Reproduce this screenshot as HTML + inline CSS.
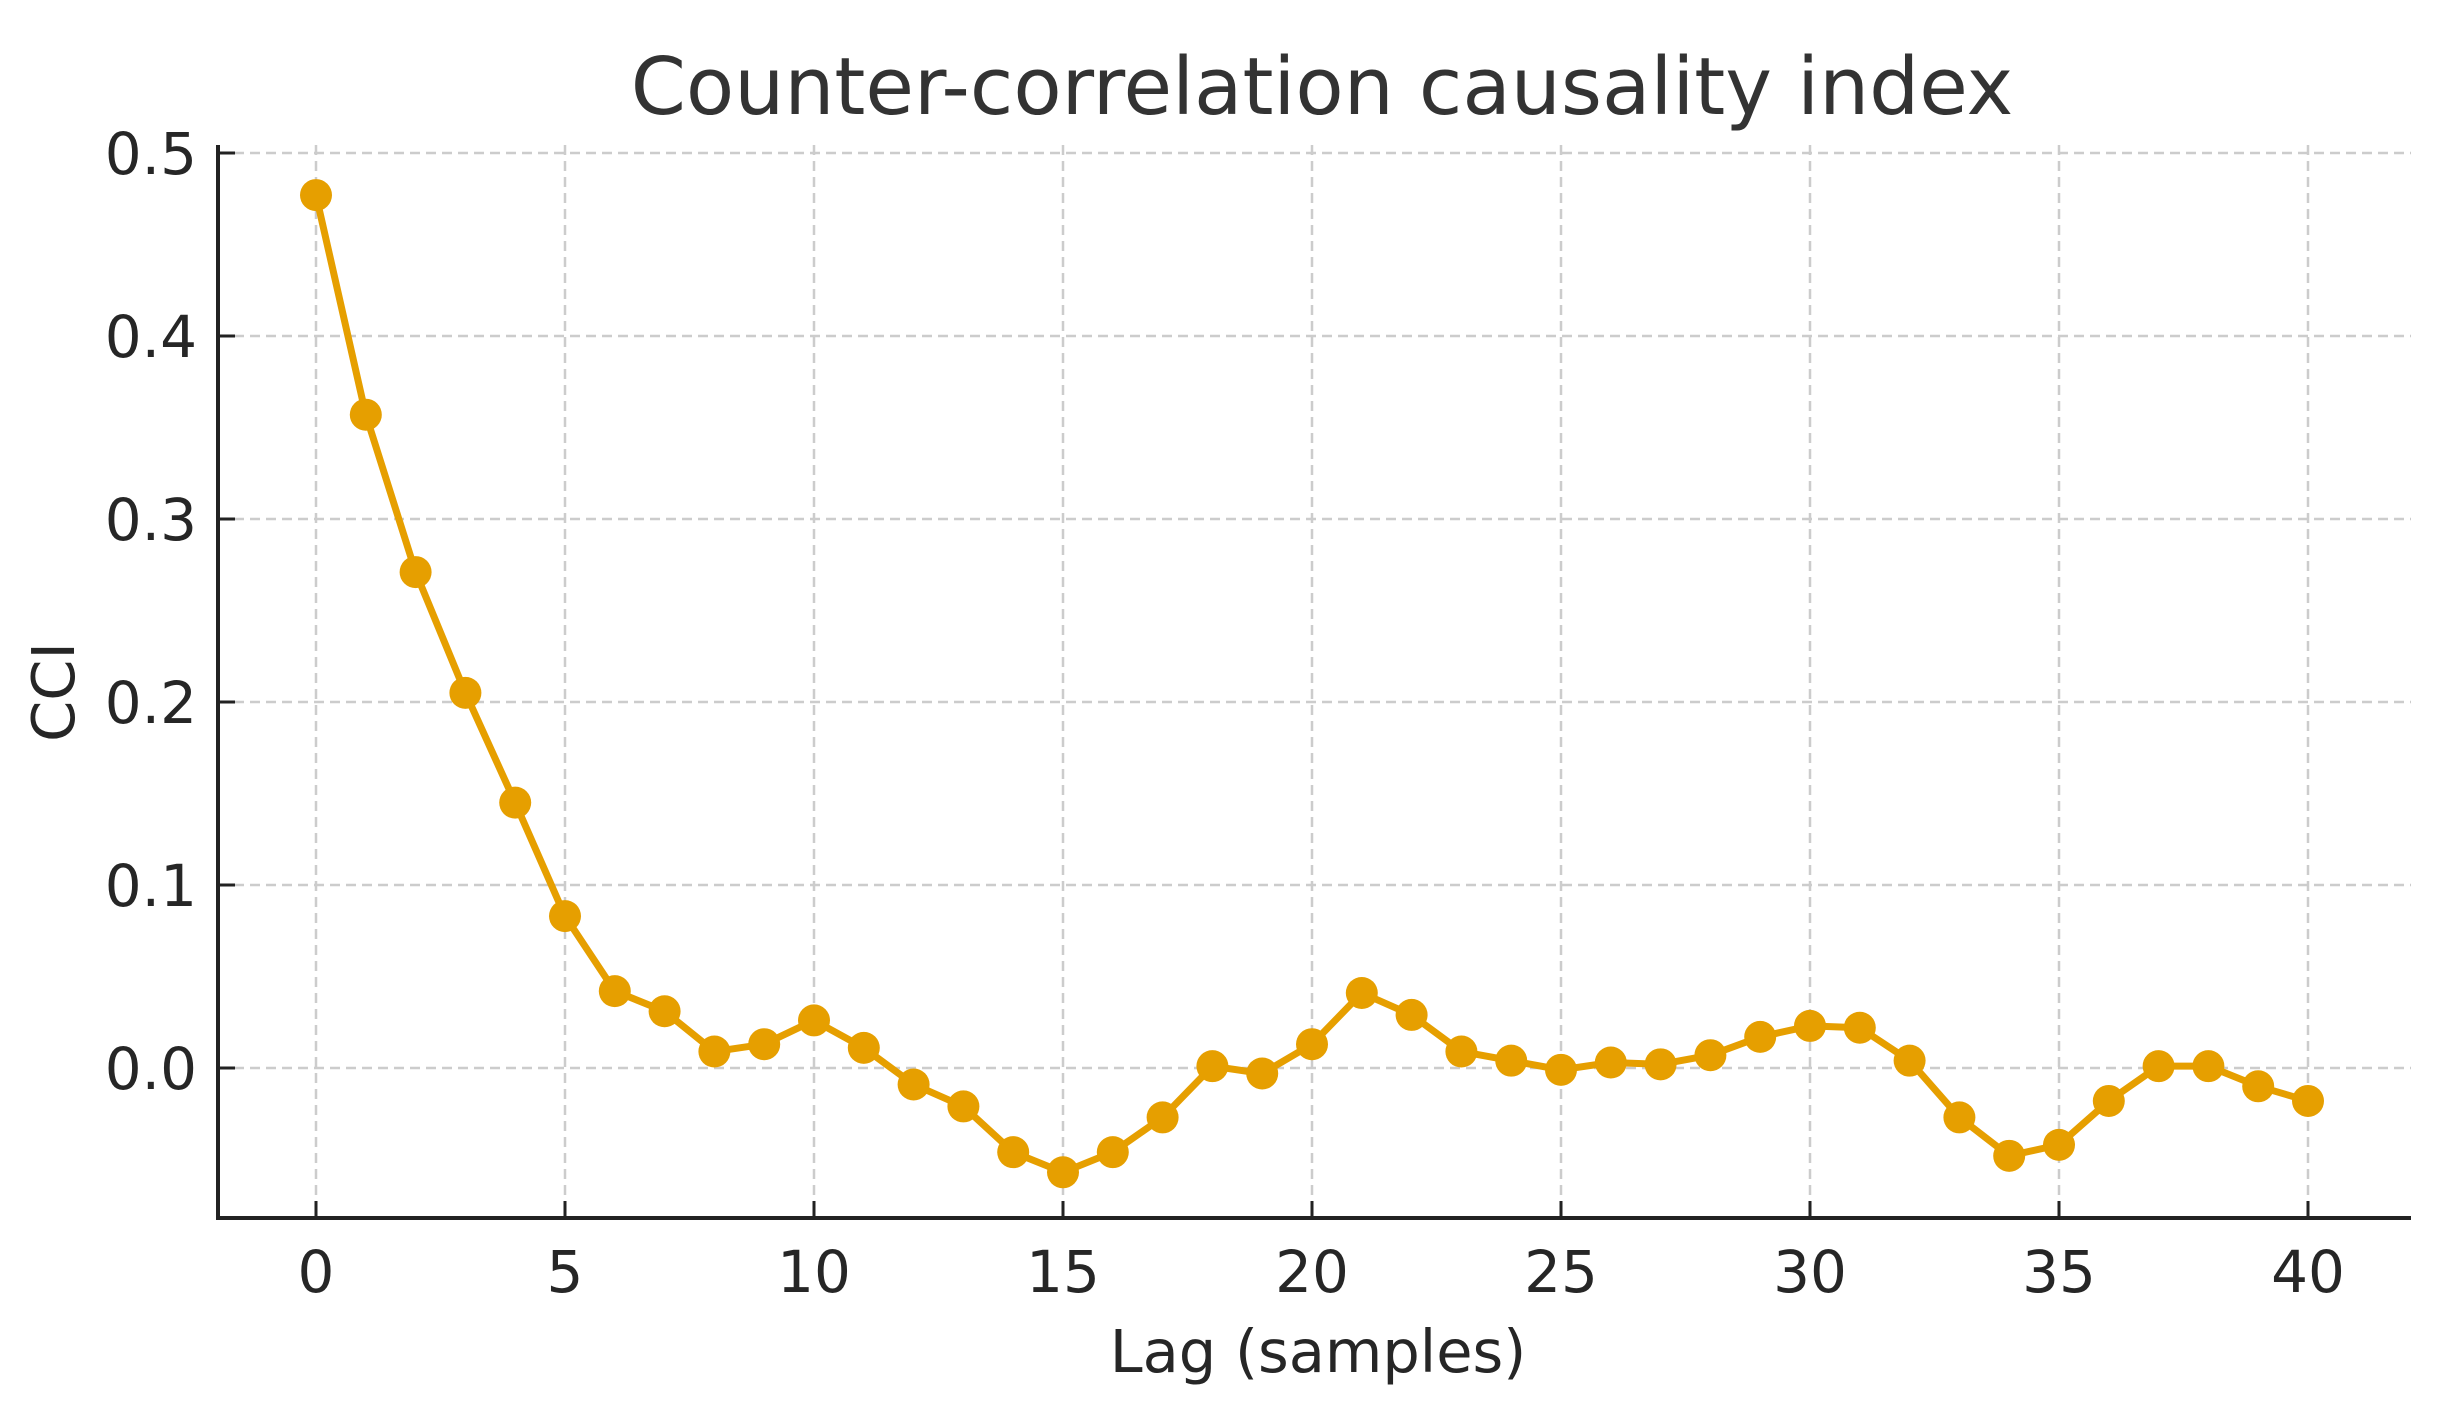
<!DOCTYPE html>
<html><head><meta charset="utf-8"><style>
html,body{margin:0;padding:0;background:#fff;}
svg{display:block;font-family:"DejaVu Sans","Liberation Sans",sans-serif;}
</style></head><body>
<svg id="chart" width="2462" height="1419" viewBox="0 0 2462 1419" xmlns="http://www.w3.org/2000/svg">
<text x="1322" y="114" font-size="79" text-anchor="middle" fill="#333333">Counter-correlation causality index</text>
<text x="1318" y="1372" font-size="59" text-anchor="middle" fill="#262626">Lag (samples)</text>
<text x="0" y="0" font-size="59" text-anchor="middle" fill="#262626" transform="translate(74,692) rotate(-90)">CCI</text>
<g id="grid"></g><g id="axes"></g><g id="series"></g>
</svg>
<script>
const lags=[0,1,2,3,4,5,6,7,8,9,10,11,12,13,14,15,16,17,18,19,20,21,22,23,24,25,26,27,28,29,30,31,32,33,34,35,36,37,38,39,40];
const cci=[0.477,0.357,0.271,0.205,0.145,0.083,0.042,0.031,0.009,0.013,0.026,0.011,-0.009,-0.021,-0.046,-0.057,-0.046,-0.027,0.001,-0.003,0.013,0.041,0.029,0.009,0.004,-0.001,0.003,0.002,0.007,0.017,0.023,0.022,0.004,-0.027,-0.048,-0.042,-0.018,0.001,0.001,-0.010,-0.018];
const xTicks=[0,5,10,15,20,25,30,35,40];
const yTicks=[0.0,0.1,0.2,0.3,0.4,0.5];
const yTickLabels=["0.0","0.1","0.2","0.3","0.4","0.5"];
const NS="http://www.w3.org/2000/svg";
const L=218,R=2411,B=1218;
function xs(v){return 316+(v-0)*(2308-316)/40;}
function ys(v){return 1068-v*(1068-153)/0.5;}
function mk(t,a,p){const e=document.createElementNS(NS,t);for(const k in a)e.setAttribute(k,a[k]);p.appendChild(e);return e;}
const grid=document.getElementById('grid'),axes=document.getElementById('axes'),series=document.getElementById('series');
xTicks.forEach(v=>{
  const g=mk('line',{x1:xs(v),x2:xs(v),y1:145,y2:B,stroke:'#cccccc','stroke-width':2.5,'stroke-dasharray':'10,6'},grid);
  
  
  const t=mk('line',{x1:xs(v),x2:xs(v),y1:B,y2:B-17,stroke:'#222','stroke-width':3},axes);
  
  
  const lb=mk('text',{x:xs(v),y:1292,'font-size':58,'text-anchor':'middle',fill:'#262626'},axes);
  lb.textContent=String(v);
  
  
});
yTicks.forEach((v,i)=>{
  const g=mk('line',{x1:L,x2:R,y1:ys(v),y2:ys(v),stroke:'#cccccc','stroke-width':2.5,'stroke-dasharray':'10,6'},grid);
  
  
  const t=mk('line',{x1:L,x2:L+17,y1:ys(v),y2:ys(v),stroke:'#222','stroke-width':3},axes);
  
  
  const lb=mk('text',{x:197,y:ys(v)+21,'font-size':58,'text-anchor':'end',fill:'#262626'},axes);
  lb.textContent=yTickLabels[i];
  
  
});
const ya=mk('line',{x1:L,x2:L,y1:145,y2:B+2,stroke:'#222','stroke-width':4},axes);


const xa=mk('line',{x1:L-2,x2:R,y1:B,y2:B,stroke:'#222','stroke-width':4},axes);


const pl=mk('polyline',{points:lags.map((x,i)=>xs(x)+','+ys(cci[i])).join(' '),fill:'none',stroke:'#E69F00','stroke-width':7,'stroke-linejoin':'round'},series);


lags.forEach((x,i)=>{
  const c=mk('circle',{cx:xs(x),cy:ys(cci[i]),r:16,fill:'#E69F00'},series);
  
  
});
</script>
</body></html>
